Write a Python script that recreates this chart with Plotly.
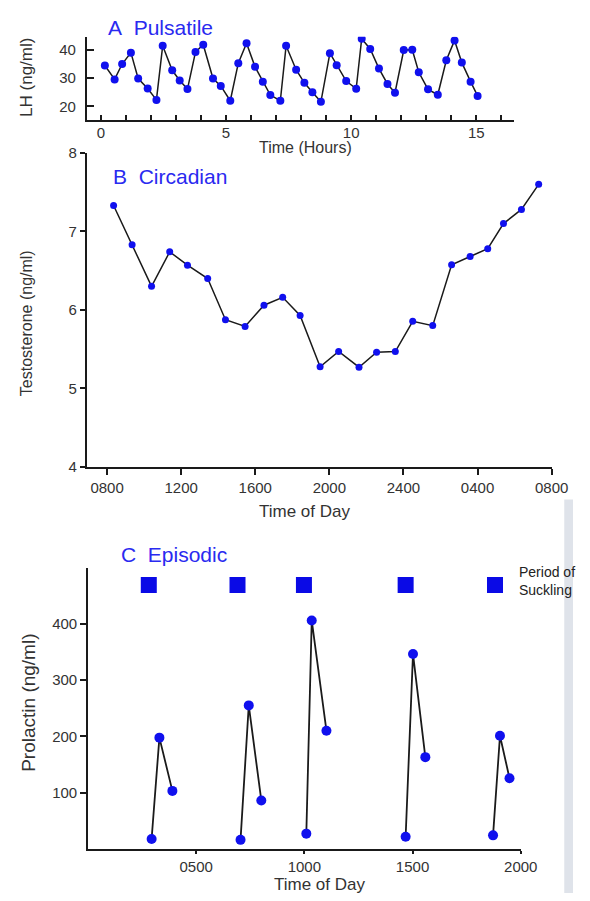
import plotly.graph_objects as go

W, H = 590, 901

# ---------------- data ----------------
# Panel A: Pulsatile LH
lh_hours = [0.16, 0.55, 0.85, 1.2, 1.49, 1.87, 2.22, 2.47, 2.85, 3.15, 3.46, 3.78, 4.09,
            4.48, 4.79, 5.17, 5.49, 5.82, 6.16, 6.47, 6.77, 7.17, 7.4, 7.8, 8.13, 8.45,
            8.79, 9.15, 9.42, 9.8, 10.2, 10.42, 10.76, 11.11, 11.45, 11.75, 12.1, 12.44,
            12.7, 13.07, 13.46, 13.8, 14.13, 14.42, 14.77, 15.05]
lh_values = [34.4, 29.5, 34.9, 38.9, 29.8, 26.3, 22.3, 41.3, 32.7, 29.1, 26.1, 39.1, 41.7,
             29.8, 27.2, 22.0, 35.2, 42.2, 33.9, 28.7, 24.0, 22.0, 41.3, 32.9, 28.3, 25.0,
             21.6, 38.7, 34.5, 28.9, 26.2, 43.8, 40.2, 33.3, 27.9, 24.8, 39.8, 39.9,
             32.0, 26.0, 24.1, 36.2, 43.2, 35.4, 28.7, 23.7]
lh_tickvals = list(range(0, 17))
lh_ticktext = ["0", "", "", "", "", "5", "", "", "", "", "10", "", "", "", "", "15", ""]

# Panel B: Circadian testosterone (hours after 0800)
t_hours = [0.35, 1.35, 2.4, 3.38, 4.34, 5.43, 6.39, 7.45, 8.47, 9.48, 10.42, 11.5,
           12.5, 13.6, 14.55, 15.56, 16.5, 17.58, 18.6, 19.6, 20.55, 21.4, 22.37, 23.3]
t_values = [7.33, 6.83, 6.30, 6.74, 6.57, 6.40, 5.875, 5.79, 6.06, 6.16, 5.93, 5.275,
            5.47, 5.27, 5.46, 5.47, 5.855, 5.80, 6.575, 6.68, 6.78, 7.10, 7.28, 7.60]
t_tickvals = [0, 4, 8, 12, 16, 20, 24]
t_ticktext = ["0800", "1200", "1600", "2000", "2400", "0400", "0800"]

# Panel C: Episodic prolactin (hour of day), three samples per episode
p_episodes_x = [[2.94, 3.30, 3.90], [7.05, 7.43, 8.01], [10.09, 10.34, 11.02],
                [14.68, 15.02, 15.59], [18.72, 19.04, 19.48]]
p_episodes_y = [[17.5, 197.7, 103], [16, 255, 86], [27, 406, 210],
                [21.5, 346.5, 163], [24, 201, 125.6]]
suckling_x = [2.81, 6.91, 9.98, 14.68, 18.81]
suckling_y = [469, 469, 469, 469, 469]
p_tickvals = [5, 10, 15, 20]
p_ticktext = ["0500", "1000", "1500", "2000"]

# ---------------- helpers ----------------
def X(px):
    return px / W

def Y(py):
    return 1 - py / H

BLUE = "#1010ee"
TITLE_BLUE = "#2a2af0"
LINE = "#1a1a1a"
TXT = "#333333"
FONT = "Liberation Sans, Arial, sans-serif"

fig = go.Figure()

# A
fig.add_trace(go.Scatter(x=lh_hours, y=lh_values, mode="lines+markers",
                         line=dict(color=LINE, width=1.5),
                         marker=dict(color=BLUE, size=8),
                         xaxis="x", yaxis="y", showlegend=False))
# B
fig.add_trace(go.Scatter(x=t_hours, y=t_values, mode="lines+markers",
                         line=dict(color=LINE, width=1.5),
                         marker=dict(color=BLUE, size=7),
                         xaxis="x2", yaxis="y2", showlegend=False))
# C episodes
for ex, ey in zip(p_episodes_x, p_episodes_y):
    fig.add_trace(go.Scatter(x=ex, y=ey, mode="lines+markers",
                             line=dict(color=LINE, width=1.8),
                             marker=dict(color=BLUE, size=10),
                             xaxis="x3", yaxis="y3", showlegend=False))
fig.add_trace(go.Scatter(x=suckling_x, y=suckling_y, mode="markers",
                         marker=dict(color="#0a0ae6", size=16, symbol="square"),
                         xaxis="x3", yaxis="y3", showlegend=False))

axis_common = dict(showgrid=False, zeroline=False, showline=True, linecolor=LINE,
                   linewidth=1.6, tickcolor=LINE, tickwidth=1.5,
                   tickfont=dict(family=FONT, size=15, color=TXT))

fig.update_layout(
    width=W, height=H, margin=dict(l=0, r=0, t=0, b=0),
    paper_bgcolor="white", plot_bgcolor="white",
    font=dict(family=FONT, color=TXT),
    xaxis=dict(domain=[X(89.3), X(529.4)], range=[-0.5645, 16.51], anchor="y",
               ticks="inside", ticklen=5, tickvals=lh_tickvals, ticktext=lh_ticktext,
               ticklabelstandoff=-2, **axis_common),
    yaxis=dict(domain=[Y(113.3), Y(28.3)], range=[15.17, 44.48], anchor="x",
               ticks="inside", ticklen=7, tickvals=[20, 30, 40], ticklabelstandoff=6,
               **axis_common),
    xaxis2=dict(domain=[X(89.3), X(568)], range=[-1.1, 24], anchor="y2",
                ticks="outside", ticklen=6, tickvals=t_tickvals, ticktext=t_ticktext,
                **axis_common),
    yaxis2=dict(domain=[Y(466.7), Y(146.7)], range=[4, 8], anchor="x2",
                ticks="outside", ticklen=5, tickvals=[4, 5, 6, 7, 8],
                **axis_common),
    xaxis3=dict(domain=[X(90.6), X(536.2)], range=[0, 20], anchor="y3",
                ticks="outside", ticklen=3, tickvals=p_tickvals, ticktext=p_ticktext,
                **axis_common),
    yaxis3=dict(domain=[Y(856), Y(569.3)], range=[0, 500], anchor="x3",
                ticks="outside", ticklen=6, tickvals=[100, 200, 300, 400],
                **axis_common),
)

ann = []
def text(t, px, py, size, color=TXT, xanchor="center", angle=0, align="center"):
    ann.append(dict(text=t, x=X(px), y=Y(py), xref="paper", yref="paper",
                    xanchor=xanchor, yanchor="middle", showarrow=False,
                    textangle=angle, align=align,
                    font=dict(family=FONT, size=size, color=color)))

text("A&nbsp;&nbsp;Pulsatile", 109, 19, 21, TITLE_BLUE, xanchor="left")
text("B&nbsp;&nbsp;Circadian", 114, 171, 21, TITLE_BLUE, xanchor="left")
text("C&nbsp;&nbsp;Episodic", 123, 556, 21, TITLE_BLUE, xanchor="left")
text("Time (Hours)", 315, 141, 16)
text("Time of Day", 314, 512, 17)
text("Time of Day", 329, 892, 17)
text("LH (ng/ml)", 27, 70, 17, angle=-90)
text("Testosterone (ng/ml)", 28, 320, 16, angle=-90)
text("Prolactin (ng/ml)", 29, 707, 19, angle=-90)
text("Period of<br>Suckling", 532, 583, 14, color="#222222", xanchor="left", align="left")
fig.update_layout(annotations=ann)

# faint scan shadow on the right edge of the lower part
fig.add_shape(type="rect", xref="paper", yref="paper", x0=X(581), x1=1, y0=0, y1=Y(500),
              fillcolor="#dfe3ea", line=dict(width=0), layer="below")

fig.write_html("out.html", config={"displayModeBar": False},
               post_script="document.body.style.margin='0';document.body.style.overflow='hidden';")
